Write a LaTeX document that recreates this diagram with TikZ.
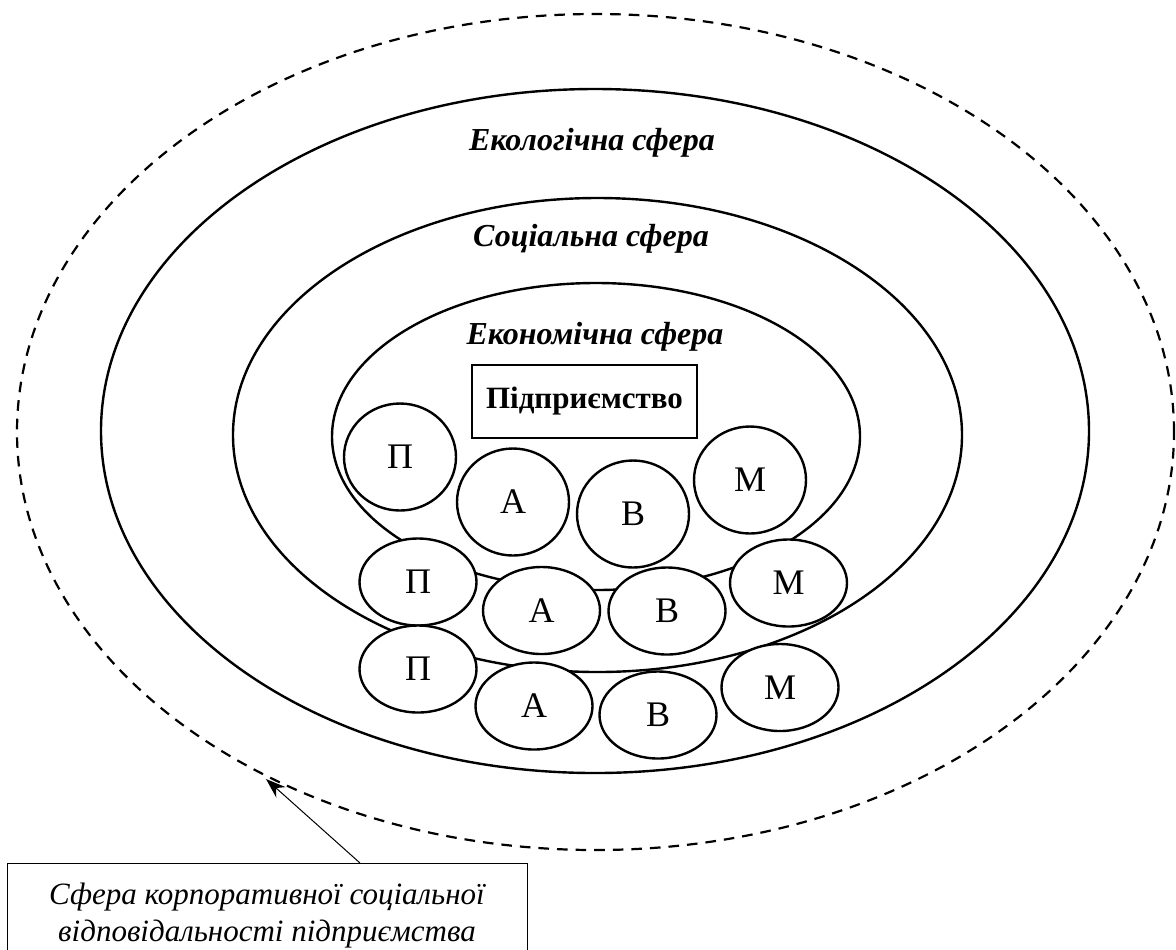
\documentclass[tikz,border=0pt]{standalone}
\usepackage{fontspec}
\setmainfont{Liberation Serif}
\usetikzlibrary{shapes.geometric,arrows.meta}
\begin{document}
\begin{tikzpicture}[x=0.5pt,y=-0.5pt,
  sphere/.style={draw, line width=1.2pt},
  outersphere/.style={draw, line width=1.1pt, dash pattern=on 5.3pt off 4pt},
  spherelabel/.style={font=\bfseries\itshape\fontsize{16}{19}\selectfont, inner sep=0pt},
  bigletter/.style={draw, ellipse, fill=white, line width=1.2pt, inner sep=0pt,
    minimum width=56pt, minimum height=53.5pt, font=\fontsize{18}{21}\selectfont},
  smallletter/.style={draw, ellipse, fill=white, line width=1.2pt, inner sep=0pt,
    minimum width=58.5pt, minimum height=43.5pt, font=\fontsize{18}{21}\selectfont},
  firmbox/.style={draw, line width=0.6pt, minimum width=112.5pt, minimum height=36.5pt,
    inner sep=0pt, font=\bfseries\fontsize{15.5}{18}\selectfont},
  notebox/.style={draw, line width=0.5pt, minimum width=260pt, minimum height=52pt,
    inner sep=0pt, align=center, font=\itshape\fontsize{15.5}{18.5}\selectfont},
  pointer/.style={line width=0.5pt, -{Stealth[length=10pt,width=7pt]}}
]
\useasboundingbox (0,0) rectangle (1176,949);

% spheres
\draw[outersphere] (595.5,432) ellipse [x radius=289.25pt, y radius=209pt];
\draw[sphere] (595,431) ellipse [x radius=247pt, y radius=171pt];
\draw[sphere] (597.5,435) ellipse [x radius=182.25pt, y radius=118.5pt];
\draw[sphere] (596,436.5) ellipse [x radius=132pt, y radius=76.75pt];

\node[spherelabel] (eco) at (592,143) {Екологічна сфера};
\node[spherelabel] (soc) at (591,239) {Соціальна сфера};
\node[spherelabel] (econ) at (595,337) {Економічна сфера};

\node[firmbox] (firm) at (584.5,401.5) {Підприємство};

% row 1
\node[bigletter] (p1) at (400,457) {П};
\node[bigletter] (a1) at (513,502) {А};
\node[bigletter] (b1) at (633,514) {В};
\node[bigletter] (m1) at (750,480) {М};
% row 2
\node[smallletter] (p2) at (418,582) {П};
\node[smallletter] (a2) at (541.5,610.5) {А};
\node[smallletter] (b2) at (667,611) {В};
\node[smallletter] (m2) at (788.5,583) {М};
% row 3
\node[smallletter] (p3) at (418,669) {П};
\node[smallletter] (a3) at (534,706) {А};
\node[smallletter] (b3) at (658,715) {В};
\node[smallletter] (m3) at (780,687.5) {М};

% note
\node[notebox, anchor=north] (note) at (267,863) {Сфера корпоративної соціальної\\відповідальності підприємства};
\coordinate (tip) at (266,779);
\coordinate (tailx) at (360,0);
\draw[pointer] (note.north -| tailx) -- (tip);
\end{tikzpicture}
\end{document}
